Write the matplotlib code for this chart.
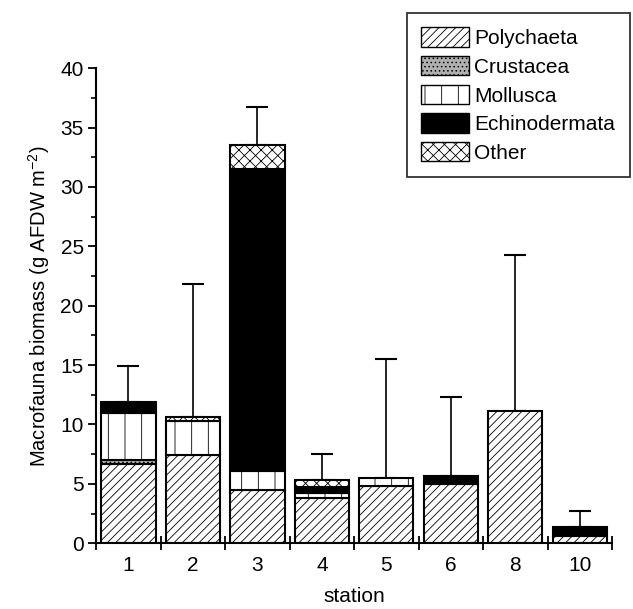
import numpy as np
import matplotlib
matplotlib.use("Agg")
import matplotlib.pyplot as plt
from matplotlib.patches import Patch
from matplotlib.ticker import MultipleLocator, FixedLocator

plt.rcParams['font.family'] = ['Liberation Sans', 'DejaVu Sans']
plt.rcParams['hatch.linewidth'] = 0.6

stations = ['1', '2', '3', '4', '5', '6', '8', '10']
polychaeta = [6.7, 7.4, 4.5, 3.8, 4.8, 5.0, 11.1, 0.6]
crustacea = [0.3, 0.0, 0.0, 0.0, 0.0, 0.0, 0.0, 0.0]
mollusca = [4.0, 2.9, 1.6, 0.4, 0.7, 0.0, 0.0, 0.0]
echinodermata = [0.9, 0.0, 25.4, 0.5, 0.0, 0.7, 0.0, 0.8]
other = [0.0, 0.3, 2.0, 0.6, 0.0, 0.0, 0.0, 0.0]
sd = [3.0, 11.2, 3.2, 2.2, 10.0, 6.6, 13.2, 1.3]

groups = [
    ('Polychaeta', polychaeta, dict(facecolor='white', hatch='////')),
    ('Crustacea', crustacea, dict(facecolor='#b0b0b0', hatch='....')),
    ('Mollusca', mollusca, dict(facecolor='white', hatch='|')),
    ('Echinodermata', echinodermata, dict(facecolor='black', hatch=None)),
    ('Other', other, dict(facecolor='white', hatch='xxx')),
]

fig = plt.figure(figsize=(6.33, 6.09), dpi=100)
ax = fig.add_axes([0.152, 0.108, 0.815, 0.780])

x = np.arange(len(stations))
width = 0.84
bottom = np.zeros(len(stations))
handles = []
for name, vals, st in groups:
    vals = np.array(vals)
    for i in range(len(stations)):
        if vals[i] > 0:
            ax.bar(x[i], vals[i], width, bottom=bottom[i], color=st['facecolor'],
                   hatch=st['hatch'], edgecolor='black', linewidth=1.5, zorder=2)
    bottom = bottom + vals
    handles.append(Patch(facecolor=st['facecolor'], hatch=st['hatch'],
                         edgecolor='black', linewidth=1.0, label=name))

ax.errorbar(x, bottom, yerr=[np.zeros(len(stations)), sd], fmt='none',
            ecolor='black', elinewidth=1.2, capsize=8, capthick=1.5, zorder=1)

ax.set_xlim(-0.5, len(stations) - 0.5)
ax.set_ylim(0, 40)
ax.spines['top'].set_visible(False)
ax.spines['right'].set_visible(False)
ax.spines['left'].set_linewidth(1.5)
ax.spines['bottom'].set_linewidth(1.5)

ax.yaxis.set_major_locator(MultipleLocator(5))
ax.yaxis.set_minor_locator(MultipleLocator(2.5))
ax.tick_params(axis='y', which='major', direction='out', length=6, width=1.3,
               labelsize=15, pad=3)
ax.tick_params(axis='y', which='minor', direction='out', length=3.5, width=1.2)

ax.set_xticks(x)
ax.set_xticklabels(stations)
ax.tick_params(axis='x', which='major', length=0, labelsize=15, pad=9)
ax.xaxis.set_minor_locator(FixedLocator(np.arange(-0.5, len(stations), 1.0)))
ax.tick_params(axis='x', which='minor', direction='inout', length=10, width=1.3)

ax.set_xlabel('station', fontsize=15, labelpad=9)
ax.set_ylabel('Macrofauna biomass (g AFDW m$^{\\mathregular{-2}}$)', fontsize=14.5,
              labelpad=6)

leg = fig.legend(handles=handles, loc='upper right', bbox_to_anchor=(0.995, 0.979),
                 fontsize=15, frameon=True, fancybox=False, handlelength=2.3,
                 handleheight=1.05, handletextpad=0.25, labelspacing=0.38,
                 borderpad=0.7, borderaxespad=0)
leg.get_frame().set_edgecolor('black')
leg.get_frame().set_linewidth(1.3)

fig.savefig('out.png', dpi=100)
